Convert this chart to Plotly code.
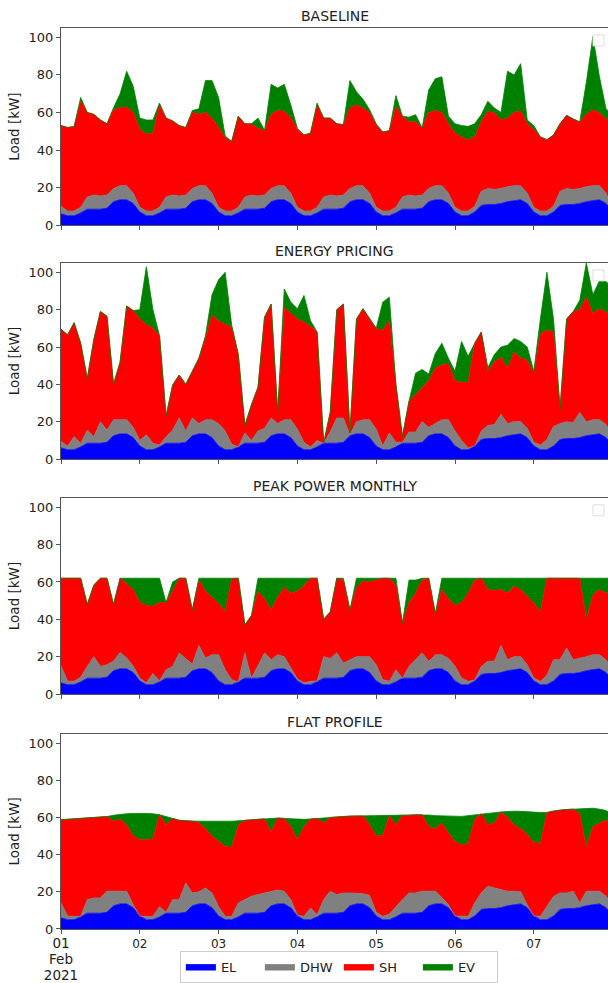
import numpy as np
import pandas as pd
import plotly.graph_objects as go

# ---------------- data (2-hourly samples, 2021-02-01 00:00 ... 2021-02-08 00:00) ----------------
times = pd.date_range("2021-02-01 00:00", "2021-02-08 00:00", freq="2h")

# electricity (EL) load, identical in every scenario  [kW]
el = [6, 5, 5, 6.5, 8.5, 8.5, 8.5, 9, 12.5, 13.5, 13.5, 11.5,
      7, 5, 5, 6.5, 8.5, 8.5, 8.5, 9, 12.5, 13.5, 13.5, 11.5,
      7, 5, 5, 6.5, 8.5, 8.5, 8.5, 9, 12.5, 13.5, 13.5, 11.5,
      7, 5, 5, 6.5, 8.5, 8.5, 8.5, 9, 12.5, 13.5, 13.5, 11.5,
      7, 5, 5, 6.5, 8.5, 8.5, 8.5, 9, 12.5, 13.5, 13.5, 11.5,
      7, 5, 5, 7, 10.5, 11, 11, 11.5, 12.5, 13, 13.5, 11.5,
      7, 5, 5, 7, 10.5, 11, 11, 11.5, 12.5, 13, 13.5, 11.5,
      7]

# ---- BASELINE: cumulative levels (top of EL+DHW, top of +SH, total with EV)
bl_dhw_top = [10, 7.5, 7.5, 9.5, 15, 16, 15.5, 16, 19.5, 21, 21, 17,
              9.5, 7.5, 7.5, 9.5, 15, 16, 15.5, 16, 19.5, 21, 21, 17,
              9.5, 7.5, 7.5, 9.5, 15, 16, 15.5, 16, 19.5, 21, 21, 17,
              9.5, 7.5, 7.5, 9.5, 15, 16, 15.5, 16, 19.5, 21, 21, 17,
              9.5, 7.5, 7.5, 9.5, 15, 16, 15.5, 16, 19.5, 21, 21, 17,
              9.5, 7.5, 7.5, 10, 18, 19.5, 19, 19.5, 20.5, 21, 21, 17,
              9.5, 7.5, 7.5, 10, 18, 19.5, 19, 19.5, 20.5, 21, 21, 17,
              9.5]
bl_sh_top = [53, 52, 52.5, 66, 60, 59, 56, 54, 61.5, 62.5, 63, 60,
             51, 48.5, 49, 64, 57, 55.5, 53, 52, 60, 59, 60, 57,
             52, 46.5, 44.6, 58, 54, 54, 51.5, 50.5, 59, 61, 60.6, 57,
             51, 48, 49, 64, 57, 57, 54, 53.5, 62.5, 64, 62.4, 60,
             53, 49.6, 50.3, 63, 58, 55, 55, 51.7, 60, 61, 60, 54,
             49, 47, 45.5, 47, 55, 60.5, 59.7, 56, 57, 60.2, 60.6, 54,
             51, 47, 45.5, 48, 54, 58.5, 56.5, 55, 59, 61.5, 59.7, 56.5,
             54]
bl_total = [53, 52, 52.5, 68, 60, 59, 56, 54, 62.5, 70, 82, 74,
            57, 56, 56, 65, 57, 55.5, 53, 52, 61, 62, 77, 77,
            68, 47.5, 44.6, 58, 54, 54, 57, 50.5, 75, 73, 75, 64,
            51.5, 48, 49, 65, 57, 57, 54, 53.5, 77, 71, 67, 61.5,
            54, 49.6, 50.3, 69, 58, 57.5, 58.8, 51.7, 72, 78, 79, 58,
            54, 53, 52.6, 54, 58.8, 66, 62.4, 60, 82, 80, 86, 56,
            53, 47, 45.5, 48, 54, 58.5, 56.5, 55, 76, 100.5, 79, 62,
            58]

# ---- ENERGY PRICING
ep_dhw_top = [9.5, 7, 12, 8.5, 15.5, 12, 20, 15.5, 21, 21, 21, 17,
              10, 13, 8.5, 7.5, 12, 15.5, 22, 15, 22, 19, 21, 21,
              19, 15, 8, 6.5, 14, 10, 15, 16.5, 22, 19, 21, 21,
              16, 9, 6.5, 10, 8.5, 14.5, 22, 22, 13, 20, 21, 21,
              16, 7, 14, 9, 9, 14.5, 14.5, 20, 17, 19, 21, 21,
              15, 10, 6, 7, 15, 18, 18.5, 24, 19, 20, 20, 16.5,
              9, 7.5, 10.5, 17.5, 19, 20, 19.5, 25, 20, 21, 21, 18.5,
              12]
ep_sh_top = [69.5, 66.5, 73, 62, 43, 64, 79, 76.5, 40, 52, 82, 79.5,
             75, 72, 70, 66, 23, 39.6, 45, 40, 47, 54, 65, 77,
             74, 72, 70.7, 56, 18, 29, 38.5, 76, 83, 25, 81, 78,
             75, 73.4, 71, 68, 8.5, 25, 80, 83, 14, 75, 80.5, 75,
             70, 69, 74, 40, 12, 31, 34.5, 38, 42, 48.5, 50.5, 51,
             42, 41, 41, 62, 68, 47, 52, 54.5, 48.5, 57.4, 54, 53,
             46, 67, 69, 68, 27, 75, 79, 80, 86.7, 78, 80.5, 78.5,
             77]
ep_total = [69.5, 66.5, 73, 62, 43, 64, 79, 76.5, 40, 52, 82, 79.5,
            80, 103, 80, 66, 23, 39.6, 45, 40, 47, 54, 66, 88,
            96, 100, 71.6, 56, 18, 29, 38.5, 76, 83, 25, 91, 84,
            80.5, 87.6, 74, 68, 8.5, 25, 80, 83, 14, 75, 80.5, 75,
            70, 84, 86.7, 40, 12, 31, 46, 48, 45.5, 56.5, 62, 54,
            47, 63, 55, 62, 68, 49, 56, 60, 61, 64.5, 63, 60,
            47, 75, 100, 75, 27, 75, 79, 85, 105, 88, 95.5, 95,
            92]

# ---- PEAK POWER MONTHLY
pp_dhw_top = [15, 7, 6.8, 9, 14.8, 20, 14.8, 15.7, 17.5, 22.3, 19.3, 15,
              8.6, 6, 11, 7, 13, 14.8, 22, 19, 16, 26, 19.3, 21,
              21, 13, 7.7, 6.5, 22, 8.5, 15, 22, 18.4, 21, 20, 14,
              8, 6, 6.8, 7, 20, 19, 22, 16.6, 18.4, 20, 20, 20,
              15.7, 7.7, 6.8, 13, 8.5, 14.8, 18.4, 22, 17.5, 21, 21, 19,
              15, 8.6, 6.8, 7.5, 14.8, 17.5, 17.5, 26, 18.4, 20, 20, 15.7,
              8.6, 6.8, 10, 18.4, 18.4, 24.6, 18.4, 19, 20, 21, 21, 18.4,
              12]
pp_sh_top = [62, 62, 62, 62, 48, 58, 62, 62, 48, 62, 59, 56,
             49, 47.5, 47, 49, 49, 55, 62, 62, 45, 61, 55, 52,
             48.5, 44, 61.6, 62, 37, 42, 55, 51, 45, 52, 57, 54,
             55, 58, 62, 62, 40, 44, 62, 61, 45, 57, 60.4, 60,
             61, 62, 62, 58, 38, 49, 54, 61, 62, 43, 56, 51,
             47.5, 49, 54, 61, 62, 56, 55.5, 56, 54, 57.7, 56, 52.3,
             48.8, 44, 62, 62, 62, 62, 62, 62, 40, 53, 56, 54,
             56]
pp_total = [62, 62, 62, 62, 48, 58.5, 62, 62, 48, 62, 62, 62,
            62, 62, 62, 62, 49, 60, 62, 62, 45, 62, 62, 62,
            62, 62, 62, 62, 37, 42, 62, 62, 62, 62, 62, 62,
            62, 62, 62, 62, 40, 44, 62, 62, 45, 62, 62, 62,
            62, 62, 62, 62, 38, 61, 61, 62, 62, 43, 62, 62,
            62, 62, 62, 62, 62, 62, 62, 62, 62, 62, 62, 62,
            62, 62, 62, 62, 62, 62, 62, 62, 62, 62, 62, 62,
            62]

# ---- FLAT PROFILE
fp_dhw_top = [14, 7, 6.8, 6.8, 15.8, 16.7, 16.7, 20.3, 20.3, 20.3, 20.3, 13,
              7, 6.8, 6.8, 12, 9, 15.8, 15.8, 24.7, 19.4, 20, 22, 19.4,
              12, 6.8, 6.8, 14, 15.8, 17.6, 18.5, 19.4, 20, 21, 20.3, 15.8,
              7.5, 6.8, 11.3, 7.7, 15.8, 20.3, 18.5, 19.4, 19.4, 19.4, 19, 18,
              9, 6.8, 8, 12, 15.8, 19.4, 19.4, 20.3, 20.3, 20.3, 17, 13,
              7, 6.8, 6.8, 14, 19.4, 23, 22, 21, 20.3, 20.3, 20, 13,
              7, 6.8, 12, 17.5, 19.4, 19.4, 20.3, 14, 20.3, 20.3, 20.3, 17.6,
              12]
fp_sh_top = [58.8, 59, 59.2, 59.4, 59.6, 59.8, 60, 60.5, 58, 59, 56, 50,
             48, 48, 48.5, 61.5, 56, 59.5, 58.5, 58.2, 58, 57, 54, 50,
             47, 44.4, 44, 56, 58.5, 58.8, 59, 59.3, 52, 59.7, 59.5, 55,
             48, 55, 59.2, 59.5, 57, 60, 60.3, 60.6, 60.8, 60.8, 60.8, 56,
             50, 50.5, 61, 56, 61, 61.4, 61.5, 61.5, 55, 54, 57, 51.6,
             47, 45.3, 46, 59, 62, 56, 57, 63, 60, 56, 54, 51,
             46.5, 46, 62.7, 63.5, 64, 64.3, 64.5, 62, 44, 55, 57, 58.5,
             55]
fp_total = [58.8, 59, 59.2, 59.4, 59.6, 59.8, 60, 60.5, 61.2, 61.8, 62, 62.2,
            62.3, 62.2, 62, 61.5, 60.5, 59.5, 58.5, 58.2, 58, 58, 58, 57.9,
            57.9, 58, 58, 58.2, 58.5, 58.8, 59, 59.3, 59.7, 59.7, 59.5, 59.2,
            59, 59, 59.2, 59.5, 59.8, 60, 60.3, 60.6, 60.8, 60.8, 60.8, 61,
            61, 61, 61, 61.2, 61.3, 61.4, 61.5, 61.5, 61.3, 61, 60.8, 60.6,
            60.6, 60.6, 61, 61.5, 62, 62.3, 62.6, 63, 63.3, 63.4, 63.3, 63,
            62.8, 62.7, 62.7, 63.5, 64, 64.3, 64.5, 64.7, 65, 65, 64.5, 63.8,
            61]

scenarios = ["BASELINE", "ENERGY PRICING", "PEAK POWER MONTHLY", "FLAT PROFILE"]
levels = [(bl_dhw_top, bl_sh_top, bl_total),
          (ep_dhw_top, ep_sh_top, ep_total),
          (pp_dhw_top, pp_sh_top, pp_total),
          (fp_dhw_top, fp_sh_top, fp_total)]
series_names = ["EL", "DHW", "SH", "EV"]
colors = ["#0000ff", "#808080", "#ff0000", "#008000"]

day_ticks = pd.date_range("2021-02-01", "2021-02-07", freq="D")
day_labels = ["<span style='font-size:13.5px'>01<br>Feb<br>2021</span>", "02", "03", "04", "05", "06", "07"]
y_ticks = [0, 20, 40, 60, 80, 100]

# ---------------- figure ----------------
W, H = 608, 983
ML, MR, MT, MB = 61, 0, 28, 50
plot_h = H - MT - MB
panels_px = [(28, 226), (264, 461), (500, 697), (737, 933)]  # (top, bottom) in px


def dom(top, bot):
    return [(H - MB - bot) / plot_h, (H - MB - top) / plot_h]


fig = go.Figure()
el_arr = np.array(el, dtype=float)
for i, (dhw_top, sh_top, total) in enumerate(levels):
    dhw_top = np.array(dhw_top, dtype=float)
    sh_top = np.array(sh_top, dtype=float)
    total = np.array(total, dtype=float)
    comps = [el_arr,
             np.clip(dhw_top - el_arr, 0, None),
             np.clip(sh_top - dhw_top, 0, None),
             np.clip(total - sh_top, 0, None)]
    ax = "" if i == 0 else str(i + 1)
    for name, vals, col in zip(series_names, comps, colors):
        fig.add_trace(go.Scatter(
            x=times, y=vals, name=name, mode="lines",
            stackgroup=f"g{i}", line=dict(color=col, width=0.8),
            fillcolor=col, xaxis="x" + ax, yaxis="y" + ax,
            legendgroup=name, showlegend=(i == 0), hoverinfo="skip"))

axis_line = "#555555"
xrange = ["2021-02-01 00:00", "2021-02-07 22:36"]
layout = dict(
    width=W, height=H, margin=dict(l=ML, r=MR, t=MT, b=MB),
    paper_bgcolor="white", plot_bgcolor="white",
    font=dict(family="DejaVu Sans", size=13, color="#222222"),
    showlegend=True,
    legend=dict(orientation="h", x=0.508, xanchor="center", y=-0.024, yanchor="top",
                bordercolor="#cccccc", borderwidth=1, bgcolor="white",
                traceorder="normal", font=dict(size=13), itemwidth=30,
                entrywidth=34, entrywidthmode="pixels"),
    annotations=[], shapes=[],
)
for i, (top, bot) in enumerate(panels_px):
    ax = "" if i == 0 else str(i + 1)
    layout["xaxis" + ax] = dict(
        type="date", range=xrange, domain=[0, 1], anchor="y" + ax,
        tickvals=day_ticks, ticktext=day_labels, showticklabels=(i == 3),
        ticks="outside", ticklen=4, tickcolor=axis_line, tickfont=dict(size=12),
        showline=True, linecolor=axis_line, linewidth=1, mirror=True,
        showgrid=False, zeroline=False)
    if i > 0:
        layout["xaxis" + ax]["matches"] = "x"
    layout["yaxis" + ax] = dict(
        domain=dom(top, bot), anchor="x" + ax, range=[0, 105],
        tickvals=y_ticks, ticks="outside", ticklen=4, tickcolor=axis_line,
        showline=True, linecolor=axis_line, linewidth=1,
        showgrid=False, zeroline=False, tickfont=dict(size=13),
        title=dict(text="Load [kW]", font=dict(size=13.5), standoff=5))
    layout["annotations"].append(dict(
        text=scenarios[i], xref="paper", yref="paper", x=0.5,
        y=dom(top, bot)[1], xanchor="center", yanchor="bottom", yshift=2,
        showarrow=False, font=dict(size=14)))
    if i < 3:
        y1 = (H - MB - (top + 7)) / plot_h
        y0 = (H - MB - (top + 18)) / plot_h
        layout["shapes"].append(dict(
            type="rect", xref="paper", yref="paper",
            x0=(593 - ML) / (W - ML), x1=(604 - ML) / (W - ML), y0=y0, y1=y1,
            line=dict(color="#dddddd", width=1), fillcolor="white"))

fig.update_layout(**layout)
fig.write_html("out.html")
